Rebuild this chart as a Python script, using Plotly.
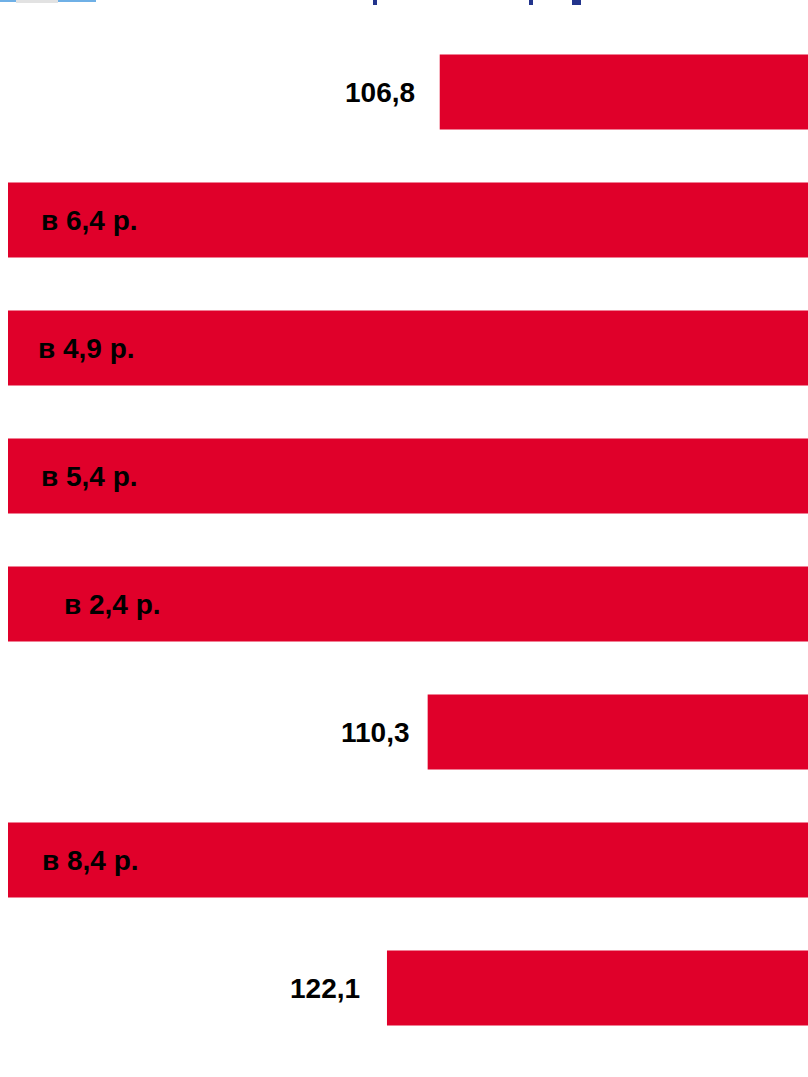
import plotly.graph_objects as go

# Data
categories = ["c1", "c2", "c3", "c4", "c5", "c6", "c7", "c8"]
values = [106.8, 640.0, 490.0, 540.0, 240.0, 110.3, 840.0, 122.1]
labels = ["106,8", "в 6,4 р.", "в 4,9 р.", "в 5,4 р.", "в 2,4 р.", "110,3", "в 8,4 р.", "122,1"]

# Styling
BAR_COLOR = "#E0002A"
FONT = "Liberation Sans, Arial, sans-serif"
X_MAX = 232
INSIDE_X = 208.5
label_xshift = [-23, 0, -3, 0, 23, -16, 1, -25]

fig = go.Figure(
    go.Bar(
        y=categories,
        x=values,
        orientation="h",
        marker=dict(color=BAR_COLOR, line=dict(width=0)),
        hoverinfo="skip",
    )
)

annotations = []
for cat, v, lab, sh in zip(categories, values, labels, label_xshift):
    if v > X_MAX:
        annotations.append(dict(
            x=INSIDE_X, y=cat, xref="x", yref="y", text="<b>%s</b>" % lab,
            showarrow=False, xanchor="center", yanchor="middle", xshift=sh,
            font=dict(family=FONT, size=28, color="#000000"),
        ))
    else:
        annotations.append(dict(
            x=v, y=cat, xref="x", yref="y", text="<b>%s</b>" % lab,
            showarrow=False, xanchor="right", yanchor="middle", xshift=sh,
            font=dict(family=FONT, size=28, color="#000000"),
        ))

# decorative remnants of the cropped header (paper coords, plot area 800x1024)
def px(x):
    return (x - 8) / 800.0

def py(y):
    return (1052 - y) / 1024.0

shapes = [
    dict(type="rect", xref="paper", yref="paper", x0=px(0), x1=px(96), y0=py(2), y1=py(0),
         fillcolor="#6FB0E6", line=dict(width=0)),
    dict(type="rect", xref="paper", yref="paper", x0=px(16), x1=px(58), y0=py(3), y1=py(0),
         fillcolor="#E2E2E2", line=dict(width=0)),
    dict(type="rect", xref="paper", yref="paper", x0=px(373), x1=px(377), y0=py(5), y1=py(0),
         fillcolor="#22348C", line=dict(width=0)),
    dict(type="rect", xref="paper", yref="paper", x0=px(529), x1=px(533), y0=py(5), y1=py(0),
         fillcolor="#22348C", line=dict(width=0)),
    dict(type="rect", xref="paper", yref="paper", x0=px(572), x1=px(581), y0=py(5), y1=py(0),
         fillcolor="#22348C", line=dict(width=0)),
]

fig.update_layout(
    width=808, height=1077,
    margin=dict(l=8, r=0, t=28, b=25, pad=0),
    paper_bgcolor="white", plot_bgcolor="white",
    bargap=0.414,
    showlegend=False,
    xaxis=dict(range=[X_MAX, 0], visible=False, showgrid=False, zeroline=False, fixedrange=True),
    yaxis=dict(autorange="reversed", visible=False, showgrid=False, zeroline=False, fixedrange=True),
    annotations=annotations,
    shapes=shapes,
)

fig.write_html(
    "out.html",
    config={"displayModeBar": False},
    post_script="document.body.style.margin='0';document.body.style.overflow='hidden';",
)
